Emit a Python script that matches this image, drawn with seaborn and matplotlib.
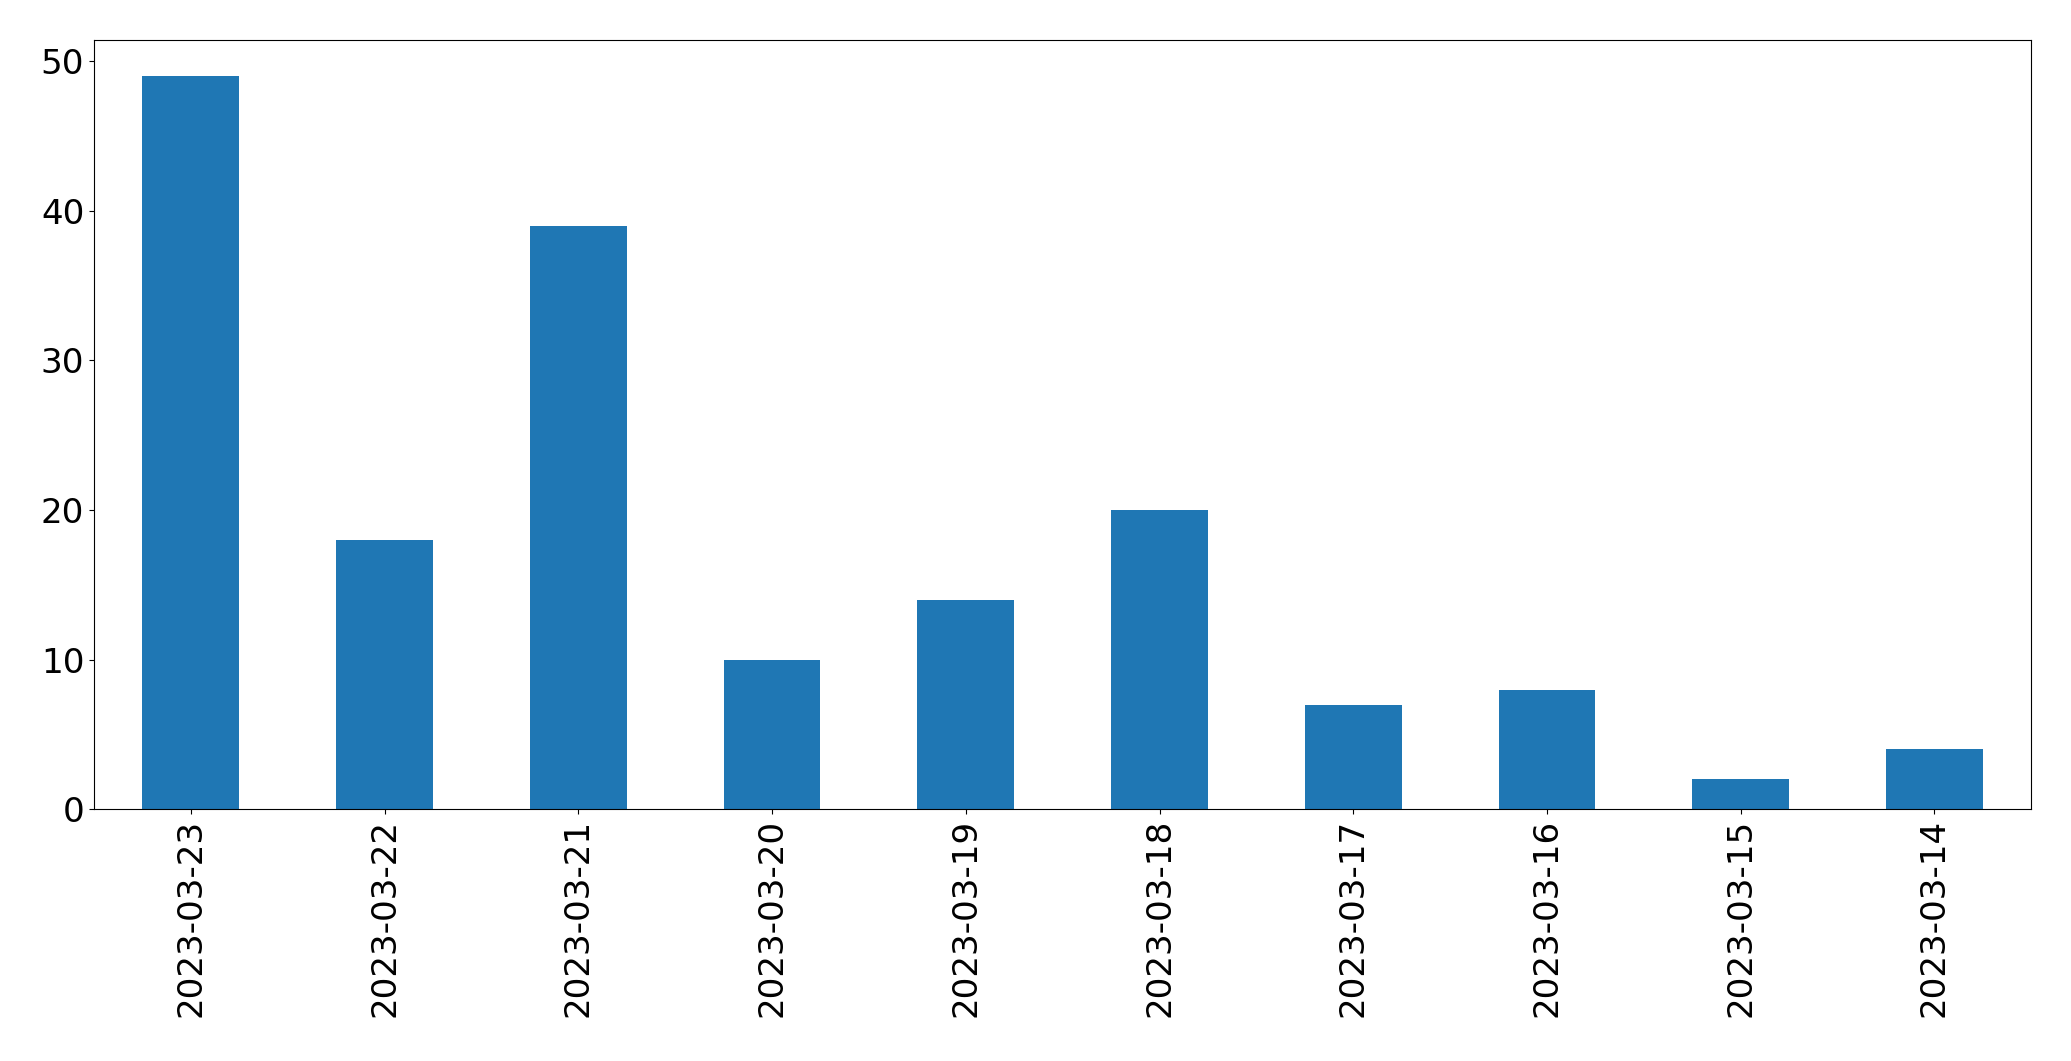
import matplotlib
matplotlib.use("Agg")
import matplotlib.pyplot as plt
import seaborn as sns
import pandas as pd

dates = ["2023-03-23", "2023-03-22", "2023-03-21", "2023-03-20", "2023-03-19",
         "2023-03-18", "2023-03-17", "2023-03-16", "2023-03-15", "2023-03-14"]
counts = [49, 18, 39, 10, 14, 20, 7, 8, 2, 4]

df = pd.DataFrame({"date": dates, "count": counts})

plt.rcParams["font.family"] = ["DejaVu Sans"]
fig = plt.figure(figsize=(20.71, 10.61), dpi=100)
ax = fig.add_axes([94 / 2071, 1 - 809.3 / 1061, (2031.3 - 94) / 2071, (809.3 - 39.5) / 1061])

sns.barplot(data=df, x="date", y="count", order=dates, color="#1f77b4",
            saturation=1, width=0.5, ax=ax, errorbar=None)

ax.set_xlim(-0.5, len(dates) - 0.5)
ax.set_ylim(0, max(counts) * 1.05)
ax.set_xlabel("")
ax.set_ylabel("")
ax.tick_params(axis="both", labelsize=24.6)
ax.tick_params(axis="x", labelrotation=90)
for s in ax.spines.values():
    s.set_visible(True)
    s.set_color("black")

fig.savefig("out.png", dpi=100)
